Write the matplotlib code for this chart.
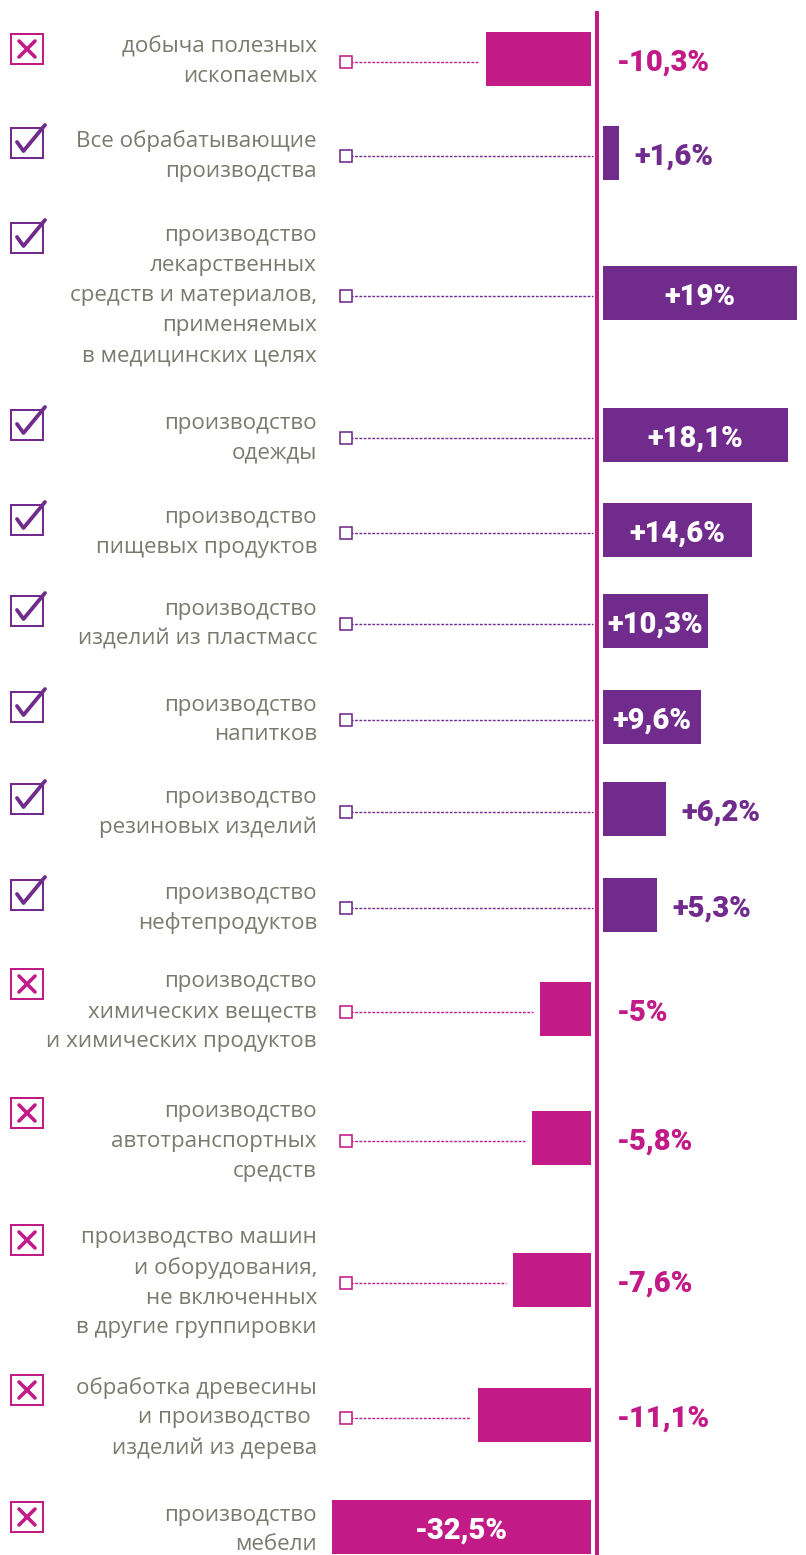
import numpy as np
import matplotlib
matplotlib.use("Agg")
import matplotlib.pyplot as plt
from matplotlib.patches import Rectangle

# data
labels = [
    "добыча полезных\nископаемых",
    "Все обрабатывающие\nпроизводства",
    "производство\nлекарственных\nсредств и материалов,\nприменяемых\nв медицинских целях",
    "производство\nодежды",
    "производство\nпищевых продуктов",
    "производство\nизделий из пластмасс",
    "производство\nнапитков",
    "производство\nрезиновых изделий",
    "производство\nнефтепродуктов",
    "производство\nхимических веществ\nи химических продуктов",
    "производство\nавтотранспортных\nсредств",
    "производство машин\nи оборудования,\nне включенных\nв другие группировки",
    "обработка древесины\nи производство \nизделий из дерева",
    "производство\nмебели",
]
values = [-10.3, 1.6, 19.0, 18.1, 14.6, 10.3, 9.6, 6.2, 5.3,
          -5.0, -5.8, -7.6, -11.1, -32.5]

# layout (pixels)
row_y = [59, 153, 293, 435, 530, 621, 717, 809, 905, 1009, 1138, 1280, 1415, 1527]
W, H = 806, 1555
MAG = "#c21a87"
PUR = "#702b8c"
GRAY = "#797b6e"
LINE_H = 30
SCALE = 10.2  # px per %
px = 72 / 100  # points per pixel

fig = plt.figure(figsize=(W / 100, H / 100), dpi=100)

# pixel-space axes for labels and icons
lay = fig.add_axes([0, 0, 1, 1])
lay.set_xlim(0, W)
lay.set_ylim(H, 0)
lay.axis("off")

# bar axes, x in percent, zero at x=597
x0 = (332 - 597) / SCALE
x1 = (W - 597) / SCALE
ax = fig.add_axes([332 / W, 0, (W - 332) / W, 1])
ax.set_xlim(x0, x1)
ax.set_ylim(H, 0)
ax.axis("off")
ax.patch.set_alpha(0)

gap = 6 / SCALE
vals = np.array(values)
cols = [MAG if v < 0 else PUR for v in vals]
ax.barh(row_y, vals, left=np.sign(vals) * gap, height=54, color=cols,
        edgecolor="none", zorder=2)
ax.plot([0, 0], [11, H], color=MAG, lw=4 * px, zorder=3, solid_capstyle="butt")

sq_x = (346 - 597) / SCALE
vfont = dict(fontsize=21, fontweight="heavy", family="Roboto", zorder=5)
for y, v, c in zip(row_y, vals, cols):
    yl = y + 3
    if v + np.sign(v) * gap > sq_x:
        end = v - gap - 7 / SCALE if v < 0 else -4 / SCALE
        ax.plot([sq_x, end], [yl, yl], color=c, lw=1.0, ls=(0, (2, 1.1)),
                zorder=1)
        ax.plot(sq_x, yl, marker="s", ms=12 * px, mfc="white", mec=c,
                mew=1.6 * px, zorder=4)

    txt = ("%+g%%" % v).replace(".", ",")
    if v >= 9 or v < -20:
        a = max(x0, min(x1, v + np.sign(v) * gap))
        cx = (a + np.sign(v) * gap) / 2
        ax.text(cx, y + 4, txt, color="white", ha="center", va="center",
                **vfont)
    elif v < 0:
        ax.text(20 / SCALE, y + 4, txt, color=c, ha="left", va="center",
                **vfont)
    else:
        ax.text(v + gap + 15 / SCALE, y + 4, txt, color=c, ha="left",
                va="center", **vfont)

# category labels + icons
for lab, y, v, c in zip(labels, row_y, vals, cols):
    lines = lab.split("\n")
    n = len(lines)
    for i, line in enumerate(lines):
        ly = y + 3 + (i - (n - 1) / 2) * LINE_H
        lay.text(317, ly, line, ha="right", va="center", color=GRAY,
                 fontsize=16.1, family="Open Sans")
    iy = y + 3 - (n - 1) / 2 * LINE_H + 2
    lay.add_patch(Rectangle((11, iy - 15), 32, 30, fill=False, ec=c,
                            lw=2 * px))
    if v < 0:
        lay.plot([19, 35], [iy - 8, iy + 8], color=c, lw=3.6 * px,
                 solid_capstyle="round")
        lay.plot([35, 19], [iy - 8, iy + 8], color=c, lw=3.6 * px,
                 solid_capstyle="round")
    else:
        lay.plot([17, 23.5, 45], [iy - 1, iy + 8, iy - 18], color=c,
                 lw=3.8 * px, solid_capstyle="round", solid_joinstyle="round")

fig.savefig("out.png", dpi=100)
